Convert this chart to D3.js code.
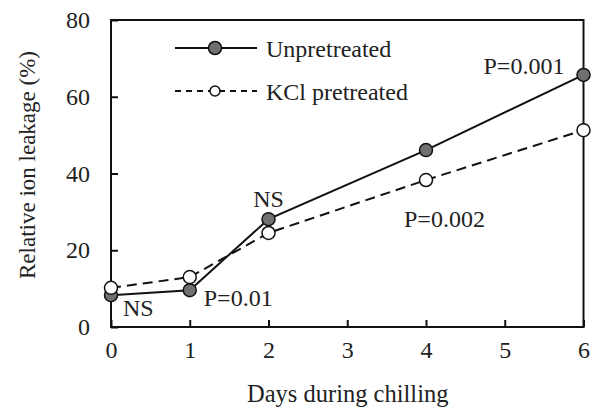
<!DOCTYPE html>
<html><head><meta charset="utf-8">
<script src="https://cdn.jsdelivr.net/npm/d3@7"></script>
<style>body{margin:0;background:#fff}svg{display:block}text{font-family:"Liberation Serif","Times New Roman",serif;fill:#222}</style>
</head><body><div id="c"></div>
<script>
const days = [0, 1, 2, 4, 6];
const unpretreated = [8.3, 9.6, 28.1, 46.1, 65.7];
const kclPretreated = [10.2, 13.0, 24.5, 38.3, 51.3];
const xTicks = [0, 1, 2, 3, 4, 5, 6];
const yTicks = [0, 20, 40, 60, 80];
const seriesNames = ["Unpretreated", "KCl pretreated"];
const annotations = [
  {day: 0, value: 8.3, text: "NS", dx: 12, dy: 21, anchor: "start"},
  {day: 1, value: 9.6, text: "P=0.01", dx: 14, dy: 16, anchor: "start"},
  {day: 2, value: 28.1, text: "NS", dx: 0, dy: -12, anchor: "middle"},
  {day: 4, value: 38.3, text: "P=0.002", dx: -22, dy: 47, anchor: "start"},
  {day: 6, value: 65.7, text: "P=0.001", dx: -100, dy: -1, anchor: "start"}
];

const W = 594, H = 409;
const m = {l: 111, r: 10.5, t: 20, b: 82};
const svg = d3.select("#c").append("svg").attr("width", W).attr("height", H);
const x = d3.scaleLinear().domain([0, 6]).range([m.l, W - m.r]);
const y = d3.scaleLinear().domain([0, 80]).range([H - m.b, m.t]);
const FS = "24px";

svg.append("rect").attr("x", x(0)).attr("y", y(80)).attr("width", x(6) - x(0)).attr("height", y(0) - y(80))
  .attr("fill", "none").attr("stroke", "#111").attr("stroke-width", 2);

const xAxis = svg.append("g").attr("transform", `translate(0,${y(0)})`)
  .call(d3.axisBottom(x).tickValues(xTicks).tickSize(-7).tickPadding(14).tickFormat(d3.format("d")));
const yAxis = svg.append("g").attr("transform", `translate(${x(0)},0)`)
  .call(d3.axisLeft(y).tickValues(yTicks).tickSize(-7).tickPadding(21).tickFormat(d3.format("d")));
[xAxis, yAxis].forEach(g => {
  g.select(".domain").remove();
  g.selectAll(".tick line").attr("stroke", "#111").attr("stroke-width", 2);
  g.selectAll(".tick text").style("font-size", FS).style("font-family", "Liberation Serif").attr("fill", "#222");
});

svg.append("text").attr("x", (x(0) + x(6)) / 2 + 0.5).attr("y", 402).attr("text-anchor", "middle")
  .style("font-size", "24.5px").text("Days during chilling");
svg.append("text").attr("transform", `translate(35,165) rotate(-90)`).attr("text-anchor", "middle")
  .style("font-size", "23px").text("Relative ion leakage (%)");

const line = d3.line().x((d, i) => x(days[i])).y(d => y(d));
svg.append("path").datum(kclPretreated).attr("d", line).attr("fill", "none").attr("stroke", "#111")
  .attr("stroke-width", 2).attr("stroke-dasharray", "10,6");
svg.append("path").datum(unpretreated).attr("d", line).attr("fill", "none").attr("stroke", "#111").attr("stroke-width", 2);

svg.append("g").selectAll("circle").data(unpretreated).join("circle")
  .attr("cx", (d, i) => x(days[i])).attr("cy", d => y(d)).attr("r", 6.5)
  .attr("fill", "#707070").attr("stroke", "#111").attr("stroke-width", 1.5);
svg.append("g").selectAll("circle").data(kclPretreated).join("circle")
  .attr("cx", (d, i) => x(days[i])).attr("cy", d => y(d)).attr("r", 6.5)
  .attr("fill", "#fff").attr("stroke", "#111").attr("stroke-width", 1.5);

const leg = svg.append("g");
[0, 1].forEach(i => {
  const ly = i ? 91 : 48;
  leg.append("line").attr("x1", 175).attr("x2", 257).attr("y1", ly).attr("y2", ly)
    .attr("stroke", "#111").attr("stroke-width", 2).attr("stroke-dasharray", i ? "6,5" : null);
  leg.append("circle").attr("cx", 215).attr("cy", ly).attr("r", i ? 5 : 6.5)
    .attr("fill", i ? "#fff" : "#707070").attr("stroke", "#111").attr("stroke-width", 1.5);
  leg.append("text").attr("x", 266).attr("y", ly + 9).style("font-size", FS).text(seriesNames[i]);
});

svg.append("g").selectAll("text").data(annotations).join("text")
  .attr("x", d => x(d.day) + d.dx).attr("y", d => y(d.value) + d.dy).attr("text-anchor", d => d.anchor)
  .style("font-size", FS).text(d => d.text);
</script></body></html>
